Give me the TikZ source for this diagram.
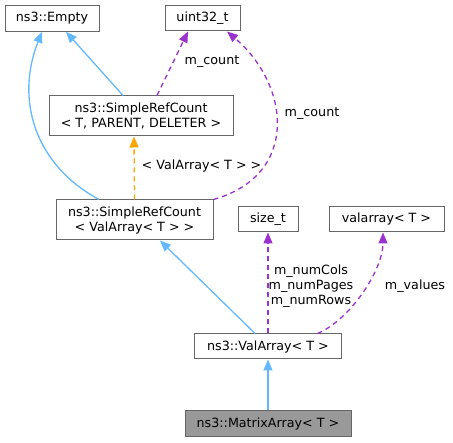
\documentclass[tikz,border=0pt]{standalone}
\usepackage{fontspec}
\setmainfont{DejaVu Sans}
\usepackage{tikz}
\usetikzlibrary{arrows.meta}

\definecolor{rand}{HTML}{666666}
\definecolor{blau}{HTML}{63B8FF}
\definecolor{lila}{HTML}{9A32CD}
\definecolor{orange}{HTML}{FFA500}
\definecolor{grau}{HTML}{999999}

\begin{document}
\begin{tikzpicture}[x=1pt,y=-1pt]
			\tikzstyle{every node}=[font=\fontsize{12.7}{15}\selectfont,inner sep=0pt]
			\tikzstyle{klasse}=[draw=rand,line width=1pt,fill=white,align=center]
			\tikzstyle{erbt}=[draw=blau,line width=1.3pt,-{Triangle[length=11pt,width=9pt]}]
			\tikzstyle{nutzt}=[draw=lila,line width=1.3pt,dash pattern=on 5pt off 4pt,-{Triangle[length=11pt,width=9pt,fill=lila]}]
			\useasboundingbox (0,0) rectangle (453,443);
			
			%Klassen
			\node[klasse,minimum width=94pt,minimum height=25.5pt] (empty) at (52,18.5) {ns3::Empty};
			\node[klasse,minimum width=75pt,minimum height=25pt] (uint) at (202.5,18.5) {uint32\_t};
			\node[klasse,minimum width=184pt,minimum height=40pt] (srcg) at (141,116) {ns3::SimpleRefCount\\< T, PARENT, DELETER >};
			\node[klasse,minimum width=157pt,minimum height=40pt] (srcva) at (134.5,220) {ns3::SimpleRefCount\\< ValArray< T > >};
			\node[klasse,minimum width=60pt,minimum height=25pt] (sizet) at (268,219.5) {size\_t};
			\node[klasse,minimum width=115pt,minimum height=25pt] (valt) at (386.5,219.5) {valarray< T >};
			\node[klasse,minimum width=147pt,minimum height=25pt] (va) at (268,346.5) {ns3::ValArray< T >};
			\node[klasse,fill=grau,minimum width=166pt,minimum height=26pt] (ma) at (268,424) {ns3::MatrixArray< T >};
			
			%Vererbung
			\draw[erbt] ([xshift=-18pt]srcg.north) -- ([xshift=14pt]empty.south);
			\draw[erbt] ([xshift=-35.5pt]srcva.north) .. controls (35,165) and (15,100) .. ([xshift=-10pt]empty.south);
			\draw[erbt] ([xshift=-13pt]va.north) -- ([xshift=25.5pt]srcva.south);
			\draw[erbt] (ma.north) -- (va.south);
			
			%Template
			\draw[draw=orange,line width=1.3pt,dash pattern=on 5pt off 4pt,-{Triangle[length=11pt,width=9pt,fill=orange]}] (srcva.north) -- ([xshift=-7pt]srcg.south);
			\node (tpl) at (201.5,166) {< ValArray< T > >};
			
			%Member
			\draw[nutzt] ([xshift=16pt]srcg.north) -- ([xshift=-14.5pt]uint.south);
			\node (mc1) at (212,62) {m\_count};
			\draw[nutzt] (srcva.north east) .. controls (300,175) and (290,85) .. ([xshift=24.5pt]uint.south);
			\node (mc2) at (312,114) {m\_count};
			\draw[nutzt] (va.north) -- (sizet.south);
			\node[align=center] (mn) at (311,286) {m\_numCols\\m\_numPages\\m\_numRows};
			\draw[nutzt] ([xshift=-24.5pt]va.north east) .. controls (350,320) and (383,270) .. ([xshift=-3.5pt]valt.south);
			\node (mv) at (415,286) {m\_values};
			
\end{tikzpicture}
\end{document}
